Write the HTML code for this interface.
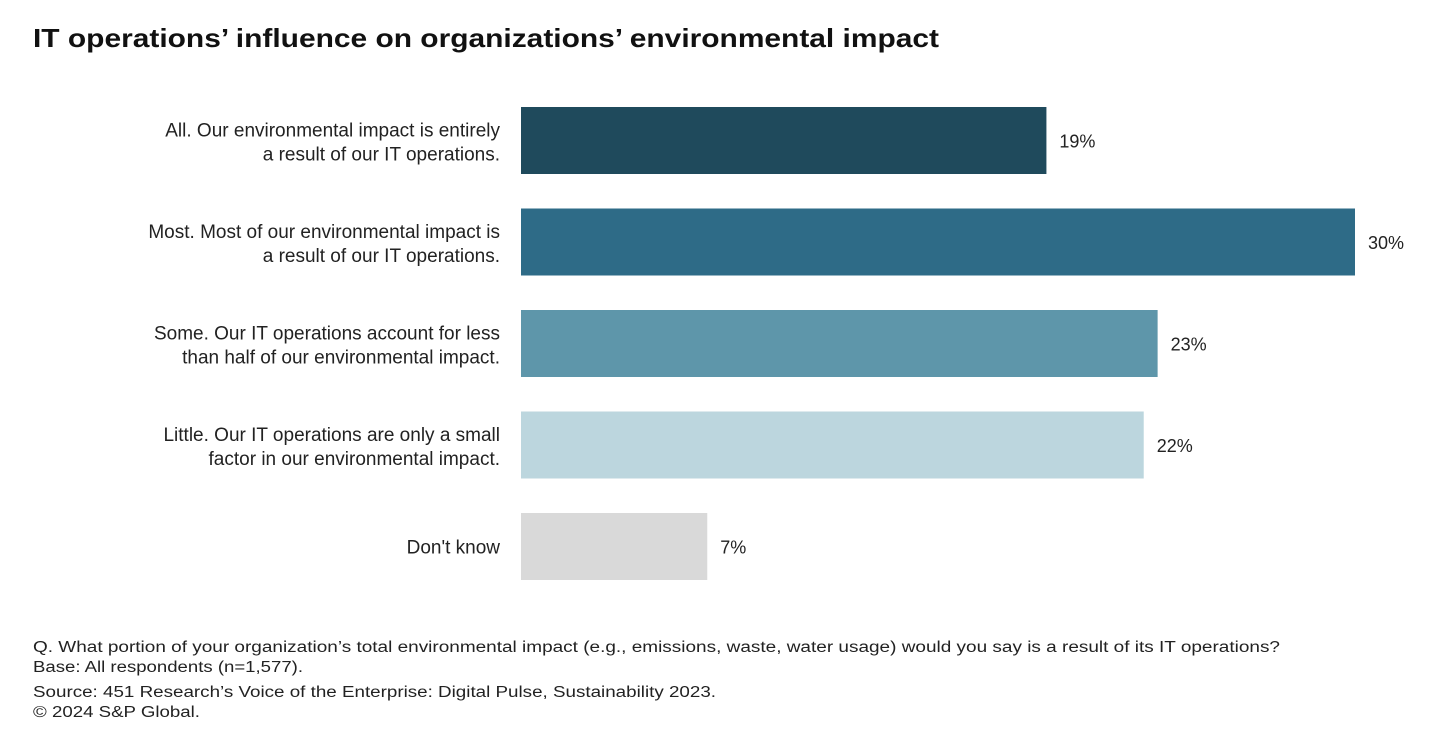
<!DOCTYPE html>
<html><head><meta charset="utf-8"><style>
html,body{margin:0;padding:0;background:#fff;}
svg{display:block;font-family:"Liberation Sans",sans-serif;}
</style></head><body>
<svg id="chart" width="1452" height="748" viewBox="0 0 1452 748">
<text x="33" y="47" font-size="26" font-weight="bold" fill="#111" textLength="906" lengthAdjust="spacingAndGlyphs">IT operations’ influence on organizations’ environmental impact</text>
<g id="bars"></g>
<g font-size="15.5" fill="#222">
<text x="33" y="652" textLength="1247" lengthAdjust="spacingAndGlyphs">Q. What portion of your organization’s total environmental impact (e.g., emissions, waste, water usage) would you say is a result of its IT operations?</text>
<text x="33" y="672" textLength="270" lengthAdjust="spacingAndGlyphs">Base: All respondents (n=1,577).</text>
<text x="33" y="697" textLength="683" lengthAdjust="spacingAndGlyphs">Source: 451 Research’s Voice of the Enterprise: Digital Pulse, Sustainability 2023.</text>
<text x="33" y="717" textLength="167" lengthAdjust="spacingAndGlyphs">© 2024 S&amp;P Global.</text>
</g>
</svg>
<script>
const categories1 = ["All. Our environmental impact is entirely","Most. Most of our environmental impact is","Some. Our IT operations account for less","Little. Our IT operations are only a small","Don't know"];
const categories2 = ["a result of our IT operations.","a result of our IT operations.","than half of our environmental impact.","factor in our environmental impact.",""];
const values = [18.9,30,22.9,22.4,6.7];
const valueLabels = ["19%","30%","23%","22%","7%"];
const colors = ["#1f4a5c","#2e6b87","#5e96aa","#bcd6de","#d9d9d9"];
const NS="http://www.w3.org/2000/svg";
const g=document.getElementById('bars');
const x0=521, pxPerPct=27.8, y0=107, pitch=101.5, bh=67;
const xs=v=>v*pxPerPct, ys=i=>y0+i*pitch;
function mk(t,a){const e=document.createElementNS(NS,t);for(const k in a)e.setAttribute(k,a[k]);return e;}
values.forEach((v,i)=>{
  const y=ys(i);
  const r=mk('rect',{x:x0,y:y,width:xs(v),height:bh,fill:colors[i]});
  
  
  g.appendChild(r);
  const t=mk('text',{x:x0+xs(v)+13,y:y+bh/2+7,'font-size':18,fill:'#222'});
  t.textContent=valueLabels[i];
  
  
  g.appendChild(t);
  const two=categories2[i]!=="";
  const l1=mk('text',{x:500,y:two?y+bh/2-4:y+bh/2+7,'font-size':19,fill:'#222','text-anchor':'end'});
  l1.textContent=categories1[i];
  
  
  g.appendChild(l1);
  if(two){
    const l2=mk('text',{x:500,y:y+bh/2+20,'font-size':19,fill:'#222','text-anchor':'end'});
    l2.textContent=categories2[i];
    
    
    g.appendChild(l2);
  }
});
</script>
</body></html>
